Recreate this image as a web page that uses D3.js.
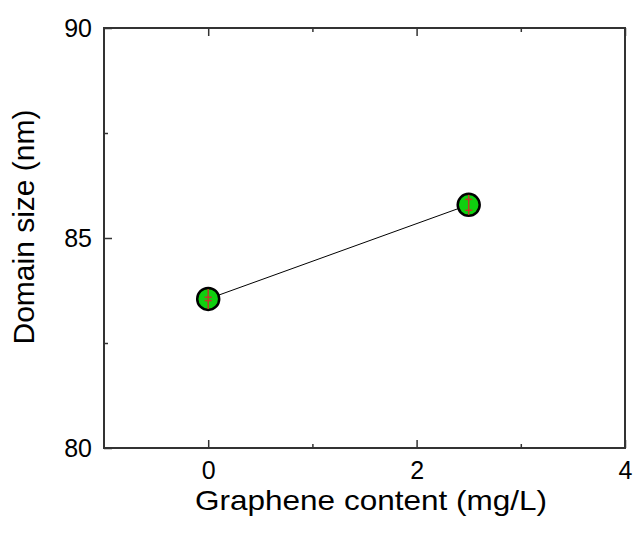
<!DOCTYPE html>
<html><head><meta charset="utf-8">
<script src="https://cdn.jsdelivr.net/npm/d3@7"></script>
<style>body{margin:0;background:#fff}svg{display:block}text{font-family:"Liberation Sans",Arial,sans-serif;fill:#000}</style>
</head><body><svg id="c" width="635" height="536"></svg>
<script>
const xs = [0, 2.5];
const ys = [83.55, 85.79];
const errs = [0.04, 0.13];
const xMajor = [0, 2, 4];
const xMinor = [1, 3];
const yMajor = [80, 85, 90];
const yMinor = [82.5, 87.5];
const xTitle = "Graphene content (mg/L)";
const yTitle = "Domain size (nm)";

(function(){
const svg = d3.select("#c");
const L=104, R=625, T=28, B=448;
const x = d3.scaleLinear().domain([-1,4]).range([L,R]);
const y = d3.scaleLinear().domain([80,90]).range([B,T]);
const ax = "#333";

const botAx = svg.append("g").attr("transform",`translate(0,${B})`)
  .call(d3.axisBottom(x).tickValues(xMajor).tickSize(-8).tickPadding(13).tickFormat(d3.format("d")));
botAx.append("g").call(d3.axisBottom(x).tickValues(xMinor).tickSize(-4).tickFormat(""));
const topAx = svg.append("g").attr("transform",`translate(0,${T})`)
  .call(d3.axisTop(x).tickValues(xMajor).tickSize(-8).tickFormat(""));
topAx.append("g").call(d3.axisTop(x).tickValues(xMinor).tickSize(-4).tickFormat(""));
const leftAx = svg.append("g").attr("transform",`translate(${L},0)`)
  .call(d3.axisLeft(y).tickValues(yMajor).tickSize(-8).tickPadding(12).tickFormat(d3.format("d")));
leftAx.append("g").call(d3.axisLeft(y).tickValues(yMinor).tickSize(-4).tickFormat(""));

svg.selectAll(".tick line").attr("stroke",ax).attr("stroke-width",1.5);
svg.selectAll(".tick text").attr("font-size",25).attr("fill","#000")
  .attr("font-family",'"Liberation Sans",Arial,sans-serif');
svg.selectAll(".domain").remove();
svg.append("rect").attr("x",L).attr("y",T).attr("width",R-L).attr("height",B-T)
  .attr("fill","none").attr("stroke",ax).attr("stroke-width",2);

const pts = xs.map((v,i)=>({x:v,y:ys[i],e:errs[i]}));
svg.append("path").datum(pts)
  .attr("d", d3.line().x(d=>x(d.x)).y(d=>y(d.y)))
  .attr("fill","none").attr("stroke","#000").attr("stroke-width",1);

const r = 11;
const g = svg.selectAll(".pt").data(pts).enter().append("g");
g.append("circle").attr("cx",d=>x(d.x)).attr("cy",d=>y(d.y)).attr("r",r)
  .attr("fill","#0fd00f").attr("stroke","#000").attr("stroke-width",2.5);
g.append("line").attr("x1",d=>x(d.x)).attr("x2",d=>x(d.x))
  .attr("y1",d=>y(d.y)-r+1).attr("y2",d=>y(d.y)+r-1)
  .attr("stroke","#c0392b").attr("stroke-width",1.5);
[-1,1].forEach(s=>{
  g.append("line").attr("x1",d=>x(d.x)-3.5).attr("x2",d=>x(d.x)+3.5)
    .attr("y1",d=>y(d.y+s*d.e)).attr("y2",d=>y(d.y+s*d.e))
    .attr("stroke","#c0392b").attr("stroke-width",1.5);
});

svg.append("text").attr("x",371).attr("y",510).attr("text-anchor","middle")
  .attr("font-size",28).attr("textLength",352).attr("lengthAdjust","spacingAndGlyphs").text(xTitle);
svg.append("text").attr("transform","translate(34,227) rotate(-90)").attr("text-anchor","middle")
  .attr("font-size",30).text(yTitle);
})();
</script></body></html>
